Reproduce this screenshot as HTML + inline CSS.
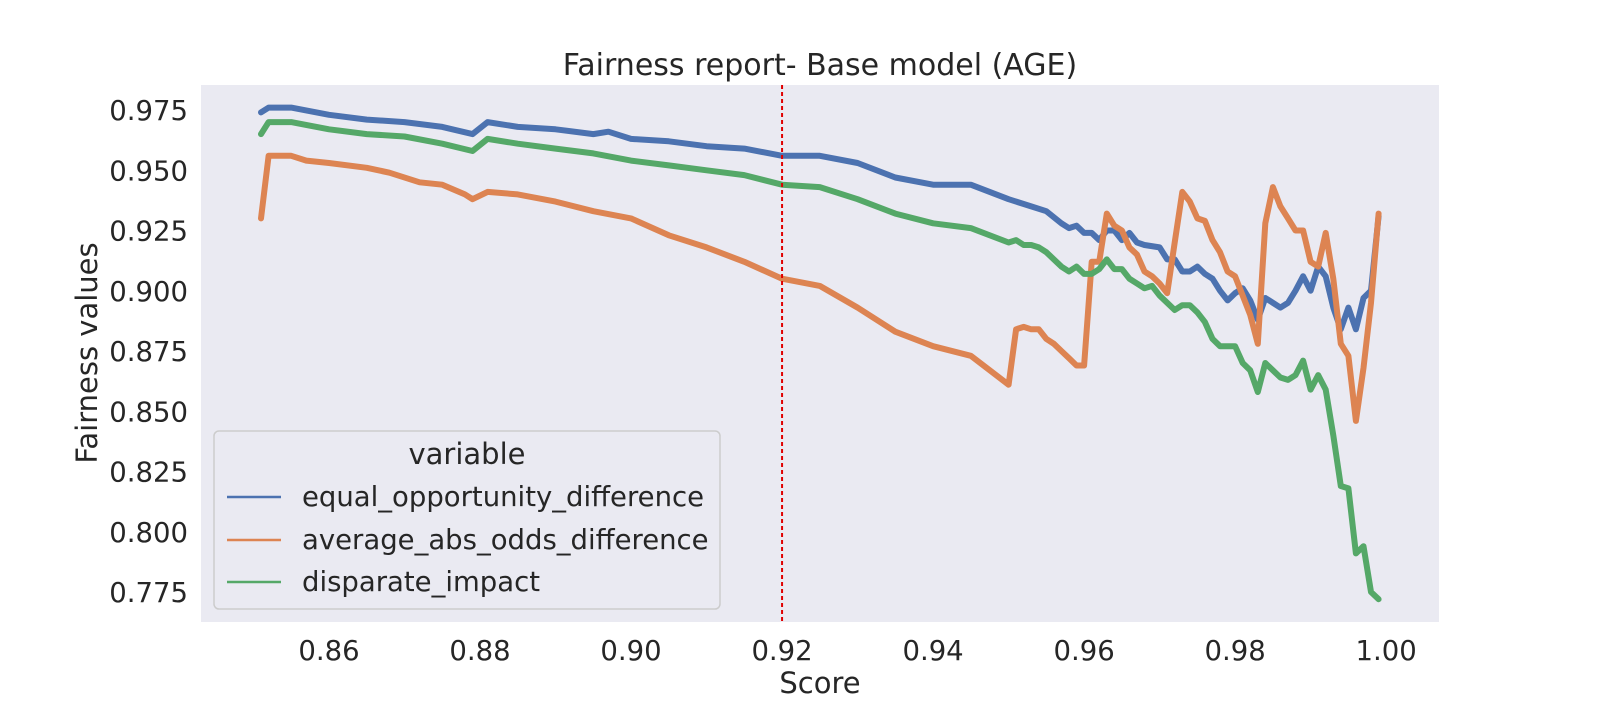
<!DOCTYPE html>
<html><head><meta charset="utf-8"><style>
body{margin:0;background:#fff;}
svg text{font-family:"DejaVu Sans","Liberation Sans",sans-serif;fill:#262626;}
</style></head><body>
<svg id="chart" width="1600" height="700" xmlns="http://www.w3.org/2000/svg">
<rect x="201" y="85" width="1238" height="537" fill="#EAEAF2"/>
<text x="820" y="75" font-size="30" text-anchor="middle">Fairness report- Base model (AGE)</text>
<text x="820" y="693" font-size="29" text-anchor="middle">Score</text>
<text transform="translate(97,353) rotate(-90)" font-size="29" text-anchor="middle">Fairness values</text>
<g id="xticks"></g><g id="yticks"></g><g id="series"></g>
<line id="thr" y1="85" y2="622" stroke="#e00000" stroke-width="2" stroke-dasharray="4,3"/>
<g>
<rect x="214" y="431" width="506" height="178" rx="5" fill="#EAEAF2" stroke="#cccccc" stroke-width="1.5"/>
<text x="467" y="464" font-size="29" text-anchor="middle">variable</text>
<line x1="227" x2="281" y1="497" y2="497" stroke="#4C72B0" stroke-width="2.5"/>
<text x="302" y="506" font-size="27.5">equal_opportunity_difference</text>
<line x1="227" x2="281" y1="540" y2="540" stroke="#DD8452" stroke-width="2.5"/>
<text x="302" y="549" font-size="27.5">average_abs_odds_difference</text>
<line x1="227" x2="281" y1="582" y2="582" stroke="#55A868" stroke-width="2.5"/>
<text x="302" y="591" font-size="27.5">disparate_impact</text>
</g>
</svg>
<script>
const xTickLabels=["0.86","0.88","0.90","0.92","0.94","0.96","0.98","1.00"];
const yTickLabels=["0.775","0.800","0.825","0.850","0.875","0.900","0.925","0.950","0.975"];
const threshold=0.92;
const blueX=[0.851,0.852,0.855,0.86,0.865,0.87,0.875,0.879,0.881,0.885,0.89,0.895,0.897,0.9,0.905,0.91,0.915,0.92,0.925,0.93,0.935,0.94,0.945,0.95,0.952,0.953,0.955,0.957,0.958,0.959,0.96,0.961,0.962,0.963,0.964,0.965,0.966,0.967,0.968,0.97,0.971,0.972,0.973,0.974,0.975,0.976,0.977,0.978,0.979,0.98,0.981,0.982,0.983,0.984,0.985,0.986,0.987,0.988,0.989,0.99,0.991,0.992,0.993,0.994,0.995,0.996,0.997,0.998,0.999];
const blueY=[0.974,0.976,0.976,0.973,0.971,0.970,0.968,0.965,0.970,0.968,0.967,0.965,0.966,0.963,0.962,0.960,0.959,0.956,0.956,0.953,0.947,0.944,0.944,0.938,0.936,0.935,0.933,0.928,0.926,0.927,0.924,0.924,0.921,0.925,0.925,0.921,0.924,0.920,0.919,0.918,0.913,0.913,0.908,0.908,0.910,0.907,0.905,0.900,0.896,0.899,0.901,0.896,0.888,0.897,0.895,0.893,0.895,0.900,0.906,0.900,0.910,0.906,0.893,0.884,0.893,0.884,0.897,0.900,0.931];
const orangeX=[0.851,0.852,0.855,0.857,0.86,0.865,0.868,0.872,0.875,0.878,0.879,0.881,0.885,0.89,0.895,0.9,0.905,0.91,0.915,0.92,0.925,0.93,0.935,0.94,0.945,0.95,0.951,0.952,0.953,0.954,0.955,0.956,0.957,0.958,0.959,0.96,0.961,0.962,0.963,0.964,0.965,0.966,0.967,0.968,0.969,0.97,0.971,0.972,0.973,0.974,0.975,0.976,0.977,0.978,0.979,0.98,0.981,0.982,0.983,0.984,0.985,0.986,0.987,0.988,0.989,0.99,0.991,0.992,0.993,0.994,0.995,0.996,0.997,0.998,0.999];
const orangeY=[0.930,0.956,0.956,0.954,0.953,0.951,0.949,0.945,0.944,0.940,0.938,0.941,0.940,0.937,0.933,0.930,0.923,0.918,0.912,0.905,0.902,0.893,0.883,0.877,0.873,0.861,0.884,0.885,0.884,0.884,0.880,0.878,0.875,0.872,0.869,0.869,0.912,0.912,0.932,0.927,0.925,0.918,0.915,0.908,0.906,0.903,0.899,0.920,0.941,0.937,0.930,0.929,0.921,0.916,0.908,0.906,0.898,0.890,0.878,0.928,0.943,0.935,0.930,0.925,0.925,0.912,0.910,0.924,0.905,0.878,0.873,0.846,0.868,0.895,0.932];
const greenX=[0.851,0.852,0.855,0.86,0.865,0.87,0.875,0.879,0.881,0.885,0.89,0.895,0.9,0.905,0.91,0.915,0.92,0.925,0.93,0.935,0.94,0.945,0.95,0.951,0.952,0.953,0.954,0.955,0.956,0.957,0.958,0.959,0.96,0.961,0.962,0.963,0.964,0.965,0.966,0.967,0.968,0.969,0.97,0.971,0.972,0.973,0.974,0.975,0.976,0.977,0.978,0.979,0.98,0.981,0.982,0.983,0.984,0.985,0.986,0.987,0.988,0.989,0.99,0.991,0.992,0.993,0.994,0.995,0.996,0.997,0.998,0.999];
const greenY=[0.965,0.970,0.970,0.967,0.965,0.964,0.961,0.958,0.963,0.961,0.959,0.957,0.954,0.952,0.950,0.948,0.944,0.943,0.938,0.932,0.928,0.926,0.920,0.921,0.919,0.919,0.918,0.916,0.913,0.910,0.908,0.910,0.907,0.907,0.909,0.913,0.909,0.909,0.905,0.903,0.901,0.902,0.898,0.895,0.892,0.894,0.894,0.891,0.887,0.880,0.877,0.877,0.877,0.870,0.867,0.858,0.870,0.867,0.864,0.863,0.865,0.871,0.859,0.865,0.859,0.840,0.819,0.818,0.791,0.794,0.775,0.772];

const NS="http://www.w3.org/2000/svg";
function xs(v){return 329+(v-0.86)*7551;}
function ys(v){return 110+(0.975-v)*2410;}
const xt=document.getElementById('xticks');
xTickLabels.forEach(l=>{
  const t=document.createElementNS(NS,'text');
  
  
  t.setAttribute('x',xs(parseFloat(l)));t.setAttribute('y',660);
  t.setAttribute('font-size','27.5');t.setAttribute('text-anchor','middle');
  t.textContent=l;xt.appendChild(t);
});
const yt=document.getElementById('yticks');
yTickLabels.forEach(l=>{
  const t=document.createElementNS(NS,'text');
  
  
  t.setAttribute('x',188);t.setAttribute('y',ys(parseFloat(l))+10);
  t.setAttribute('font-size','27.5');t.setAttribute('text-anchor','end');
  t.textContent=l;yt.appendChild(t);
});
const thr=document.getElementById('thr');
thr.setAttribute('x1',xs(threshold));thr.setAttribute('x2',xs(threshold));
const sg=document.getElementById('series');
function draw(X,Y,color,name){
  const p=document.createElementNS(NS,'polyline');
  
  
  p.setAttribute('points',X.map((x,i)=>xs(x).toFixed(1)+','+ys(Y[i]).toFixed(1)).join(' '));
  p.setAttribute('fill','none');p.setAttribute('stroke',color);
  p.setAttribute('stroke-width','6');p.setAttribute('stroke-linejoin','round');p.setAttribute('stroke-linecap','round');
  sg.appendChild(p);
}
draw(blueX,blueY,'#4C72B0','line-equal-opportunity-difference');
draw(orangeX,orangeY,'#DD8452','line-average-abs-odds-difference');
draw(greenX,greenY,'#55A868','line-disparate-impact');
</script>
</body></html>
